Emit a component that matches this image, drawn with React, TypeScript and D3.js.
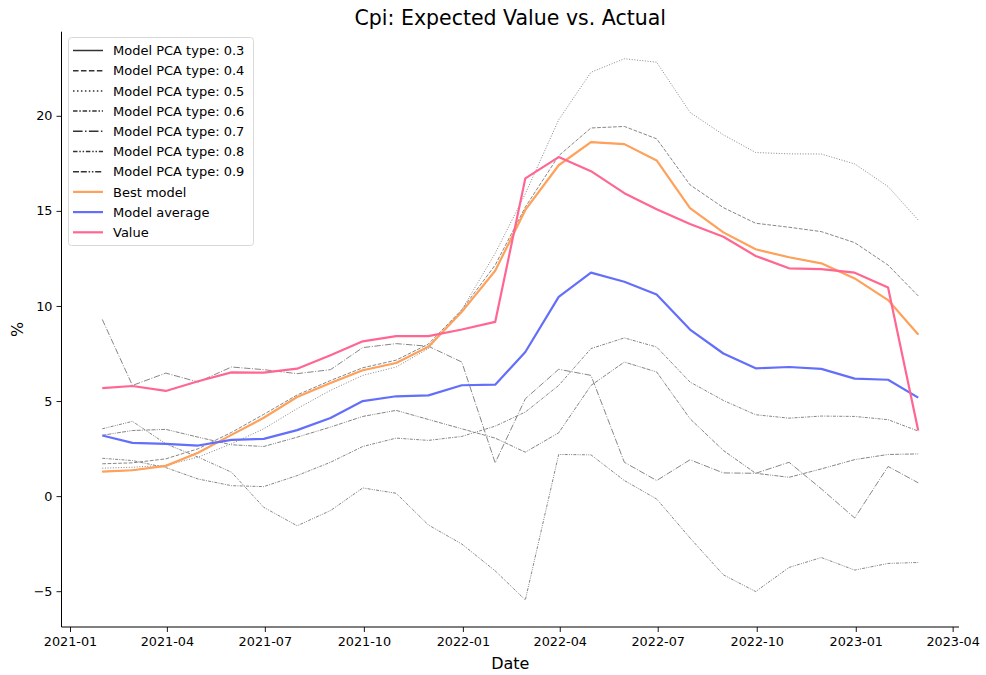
import React, { useEffect, useRef } from 'react'
import * as d3 from 'd3'

// month-end dates of each observation
const dates = [
  '2021-01-31', '2021-02-28', '2021-03-31', '2021-04-30', '2021-05-31', '2021-06-30',
  '2021-07-31', '2021-08-31', '2021-09-30', '2021-10-31', '2021-11-30', '2021-12-31',
  '2022-01-31', '2022-02-28', '2022-03-31', '2022-04-30', '2022-05-31', '2022-06-30',
  '2022-07-31', '2022-08-31', '2022-09-30', '2022-10-31', '2022-11-30', '2022-12-31',
  '2023-01-31', '2023-02-28',
]

const bestModel = [1.29, 1.36, 1.59, 2.28, 3.22, 4.12, 5.21, 5.95, 6.62, 7.0, 7.86, 9.69,
  11.85, 15.05, 17.4, 18.62, 18.51, 17.65, 15.14, 13.87, 12.98, 12.56, 12.24, 11.45, 10.31, 8.5]

const modelAverage = [3.19, 2.8, 2.75, 2.66, 2.96, 3.01, 3.47, 4.11, 5.0, 5.25, 5.3, 5.83,
  5.86, 7.58, 10.48, 11.75, 11.27, 10.6, 8.76, 7.5, 6.72, 6.79, 6.69, 6.18, 6.12, 5.18]

const actual = [5.68, 5.79, 5.53, 6.04, 6.51, 6.49, 6.7, 7.41, 8.14, 8.41, 8.41, 8.76,
  9.16, 16.71, 17.83, 17.09, 15.93, 15.09, 14.31, 13.64, 12.63, 11.98, 11.94, 11.75, 10.97, 3.45]

const pca03 = bestModel
const pca04 = [1.7, 1.75, 1.96, 2.49, 3.35, 4.3, 5.32, 6.08, 6.75, 7.15, 8.0, 9.8,
  12.15, 15.2, 17.9, 19.36, 19.44, 18.79, 16.37, 15.17, 14.35, 14.14, 13.91, 13.33, 12.15, 10.53]
const pca05 = [1.47, 1.52, 1.62, 2.05, 2.75, 3.54, 4.6, 5.56, 6.35, 6.79, 7.76, 9.8,
  12.77, 15.9, 19.79, 22.29, 23.0, 22.82, 20.18, 19.0, 18.07, 18.0, 17.99, 17.47, 16.28, 14.52]
const pca06 = [1.99, 1.87, 1.5, 0.9, 0.55, 0.5, 1.08, 1.78, 2.61, 3.05, 2.93, 3.14,
  3.68, 4.42, 5.82, 7.76, 8.32, 7.84, 6.0, 5.03, 4.28, 4.1, 4.21, 4.19, 4.02, 3.42]
const pca07 = [9.29, 5.82, 6.47, 6.0, 6.79, 6.65, 6.44, 6.65, 7.81, 8.02, 7.88, 7.05,
  1.75, 5.12, 6.67, 6.35, 1.78, 0.82, 1.91, 1.22, 1.2, 1.78, 0.38, -1.15, 1.56, 0.7]
const pca08 = [3.54, 3.93, 2.75, 2.05, 1.26, -0.59, -1.56, -0.76, 0.43, 0.15, -1.52, -2.52,
  -3.93, -5.46, 2.19, 2.17, 0.82, -0.15, -2.2, -4.14, -5.02, -3.75, -3.23, -3.89, -3.54, -3.49]
const pca09 = [3.2, 3.45, 3.51, 3.1, 2.7, 2.61, 3.1, 3.63, 4.19, 4.51, 4.03, 3.54,
  3.05, 2.31, 3.33, 5.82, 7.05, 6.53, 4.07, 2.4, 1.2, 0.99, 1.43, 1.92, 2.19, 2.22]

const pcaTypes = ['0.3', '0.4', '0.5', '0.6', '0.7', '0.8', '0.9']
const pcaSeries = [pca03, pca04, pca05, pca06, pca07, pca08, pca09]
// dash patterns for lw = 1
const pcaDashes = [
  null,
  [3.7, 1.6],
  [1, 1.65],
  [3, 1.2, 1, 1.2],
  [6.4, 1.6, 1, 1.6],
  [3, 1.2, 1, 1.2, 1, 1.2],
  [4, 1.2, 4, 1.2, 1, 1.2, 1, 1.2],
]

const yTicks = [-5, 0, 5, 10, 15, 20]
const xTicks = ['2021-01-01', '2021-04-01', '2021-07-01', '2021-10-01', '2022-01-01',
  '2022-04-01', '2022-07-01', '2022-10-01', '2023-01-01', '2023-04-01']

const font = 'DejaVu Sans, sans-serif'

const App = () => {
  const ref = useRef<SVGSVGElement>(null)

  useEffect(() => {
    document.body.style.margin = '0'
    const svg = d3.select(ref.current)
    svg.selectAll('*').remove()

    const width = 986
    const height = 675
    const margin = { left: 61.5, right: 27, top: 31.7, bottom: 48 }

    const parse = d3.timeParse('%Y-%m-%d')
    const xs = dates.map(d => parse(d) as Date)

    // matplotlib-style 5% padding around data range
    const t0 = xs[0].getTime()
    const t1 = xs[xs.length - 1].getTime()
    const pad = (t1 - t0) * 0.05
    const x = d3.scaleTime()
      .domain([new Date(t0 - pad), new Date(t1 + pad)])
      .range([margin.left, width - margin.right])

    const allVals = [...bestModel, ...modelAverage, ...actual, ...pcaSeries.flat()]
    const [lo, hi] = d3.extent(allVals) as [number, number]
    const ypad = (hi - lo) * 0.05
    const y = d3.scaleLinear()
      .domain([lo - ypad, hi + ypad])
      .range([height - margin.bottom, margin.top])

    const line = d3.line<number>()
      .x((_, i) => x(xs[i]))
      .y(d => y(d))

    const plot = svg.append('g')

    pcaSeries.forEach((s, k) => {
      plot.append('path')
        .attr('d', line(s))
        .attr('fill', 'none')
        .attr('stroke', '#808080')
        .attr('stroke-opacity', 0.95)
        .attr('stroke-width', 1)
        .attr('stroke-dasharray', pcaDashes[k] ? pcaDashes[k]!.join(',') : null)
    })

    const mainLines = [
      { vals: bestModel, color: '#ffa15a', label: 'Best model' },
      { vals: modelAverage, color: '#636efa', label: 'Model average' },
      { vals: actual, color: '#ff6692', label: 'Value' },
    ]
    mainLines.forEach(m => {
      plot.append('path')
        .attr('d', line(m.vals))
        .attr('fill', 'none')
        .attr('stroke', m.color)
        .attr('stroke-width', 2.2)
        .attr('stroke-linejoin', 'round')
    })

    // axes
    const yAxis = svg.append('g')
      .attr('transform', `translate(${margin.left},0)`)
      .call(d3.axisLeft(y).tickValues(yTicks).tickSize(5).tickPadding(4).tickFormat(d => {
        const v = +d
        return v < 0 ? '\u2212' + Math.abs(v) : String(v)
      }))
    const xAxis = svg.append('g')
      .attr('transform', `translate(0,${height - margin.bottom})`)
      .call(d3.axisBottom(x).tickValues(xTicks.map(d => parse(d) as Date))
        .tickSize(5).tickPadding(5).tickFormat(d => d3.timeFormat('%Y-%m')(d as Date)))
    ;[yAxis, xAxis].forEach(a => {
      a.selectAll('text').attr('font-family', font).attr('font-size', 12.8).attr('fill', '#000')
      a.selectAll('line').attr('stroke', '#000').attr('stroke-width', 0.9)
      a.select('.domain').attr('stroke', '#000').attr('stroke-width', 1)
        .attr('d', null)
    })
    yAxis.select('.domain')
      .attr('d', `M0,${y.range()[0]}V${y.range()[1]}`)
    xAxis.select('.domain')
      .attr('d', `M${x.range()[0]},0H${x.range()[1]}`)

    // labels
    svg.append('text')
      .attr('x', (x.range()[0] + x.range()[1]) / 2)
      .attr('y', 25)
      .attr('text-anchor', 'middle')
      .attr('font-family', font)
      .attr('font-size', 20.5)
      .text('Cpi: Expected Value vs. Actual')

    svg.append('text')
      .attr('x', (x.range()[0] + x.range()[1]) / 2)
      .attr('y', 669)
      .attr('text-anchor', 'middle')
      .attr('font-family', font)
      .attr('font-size', 16)
      .text('Date')

    svg.append('text')
      .attr('transform', `translate(23,${(y.range()[0] + y.range()[1]) / 2}) rotate(-90)`)
      .attr('text-anchor', 'middle')
      .attr('font-family', font)
      .attr('font-size', 16)
      .text('%')

    // legend
    const entries = [
      ...pcaTypes.map((t, k) => ({ label: `Model PCA type: ${t}`, color: '#333', w: 1.5, dash: pcaDashes[k] })),
      ...mainLines.map(m => ({ label: m.label, color: m.color, w: 2.2, dash: null as number[] | null })),
    ]
    const lg = svg.append('g').attr('transform', 'translate(68,37)')
    lg.append('rect')
      .attr('x', 0.5).attr('y', 0.5)
      .attr('width', 185).attr('height', 208)
      .attr('rx', 3)
      .attr('fill', '#fff').attr('fill-opacity', 0.8)
      .attr('stroke', '#d9d9d9')
    entries.forEach((e, i) => {
      const cy = 13.5 + i * 20.2
      lg.append('line')
        .attr('x1', 5).attr('x2', 35)
        .attr('y1', cy).attr('y2', cy)
        .attr('stroke', e.color)
        .attr('stroke-width', e.w)
        .attr('stroke-dasharray', e.dash ? e.dash.map(v => v * 1.5).join(',') : null)
      lg.append('text')
        .attr('x', 45).attr('y', cy + 4.6)
        .attr('font-family', font)
        .attr('font-size', 13)
        .text(e.label)
    })
  }, [])

  return <svg ref={ref} width={986} height={675} style={{ display: 'block', background: '#fff' }} />
}

export default App
